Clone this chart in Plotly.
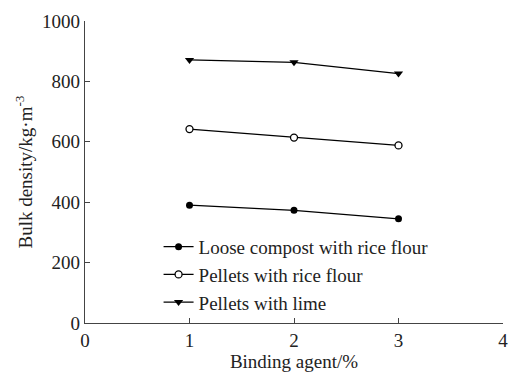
import plotly.graph_objects as go

binding_agent = [1, 2, 3]
loose_rice = [390, 373, 345]
pellets_rice = [642, 614, 588]
pellets_lime = [871, 863, 826]

series_names = ["Loose compost with rice flour", "Pellets with rice flour", "Pellets with lime"]

FONT = "Liberation Serif"

fig = go.Figure()
fig.add_trace(go.Scatter(x=binding_agent, y=loose_rice, name=series_names[0], mode="lines+markers",
                         line=dict(color="black", width=1.2),
                         marker=dict(symbol="circle", size=7, color="black")))
fig.add_trace(go.Scatter(x=binding_agent, y=pellets_rice, name=series_names[1], mode="lines+markers",
                         line=dict(color="black", width=1.2),
                         marker=dict(symbol="circle", size=7, color="white", line=dict(color="black", width=1.3))))
fig.add_trace(go.Scatter(x=binding_agent, y=pellets_lime, name=series_names[2], mode="lines+markers",
                         line=dict(color="black", width=1.2),
                         marker=dict(symbol="triangle-down", size=8, color="black")))

fig.update_layout(
    width=509, height=374,
    margin=dict(l=85, r=6, t=21, b=51),
    paper_bgcolor="white", plot_bgcolor="white",
    font=dict(family=FONT, size=19, color="#222"),
    showlegend=True,
    legend=dict(x=0.176, y=0.315, xanchor="left", yanchor="top",
                bgcolor="rgba(0,0,0,0)", font=dict(size=19, family=FONT),
                tracegroupgap=0, itemwidth=30),
    xaxis=dict(range=[0, 4], tickvals=[0, 1, 2, 3, 4], showgrid=False, zeroline=False,
               showline=True, linecolor="#444", linewidth=1.3,
               ticks="inside", ticklen=5, tickcolor="#444",
               tickfont=dict(size=19, family=FONT),
               title=dict(text="Binding agent/%", font=dict(size=19, family=FONT), standoff=2),
               automargin=False),
    yaxis=dict(range=[0, 1000], tickvals=[0, 200, 400, 600, 800, 1000], showgrid=False, zeroline=False,
               showline=True, linecolor="#444", linewidth=1.3,
               ticks="inside", ticklen=5, tickcolor="#444",
               tickfont=dict(size=19, family=FONT),
               title=dict(text="Bulk density/kg·m<sup>-3</sup>", font=dict(size=19, family=FONT), standoff=4),
               automargin=False),
)

fig.write_html("out.html")
